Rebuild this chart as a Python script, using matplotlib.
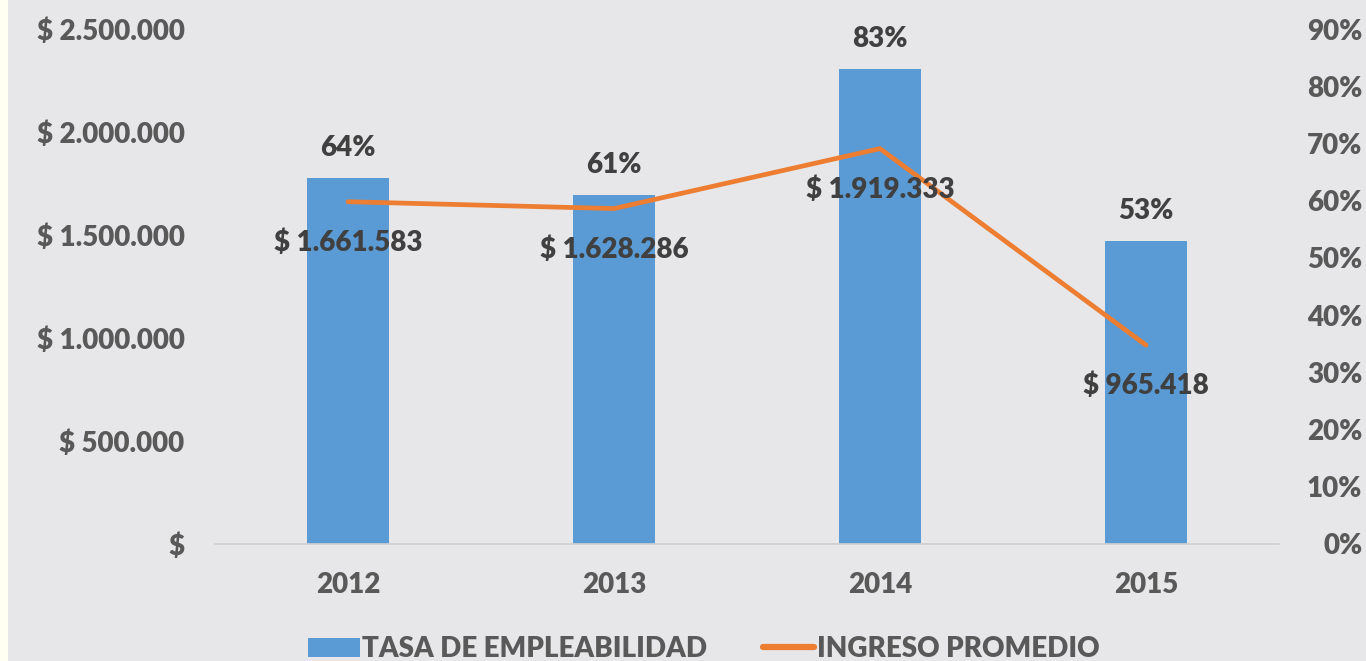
import matplotlib
matplotlib.use("Agg")
import matplotlib.pyplot as plt
from matplotlib.patches import Patch, Rectangle
from matplotlib.lines import Line2D

years = ["2012", "2013", "2014", "2015"]
tasa = [64, 61, 83, 53]
ingreso = [1661583, 1628286, 1919333, 965418]

bg = "#E7E7E9"
blue = "#5B9BD5"
orange = "#ED7D31"
grey = "#595959"
dark = "#404040"
fs = 20
wt = "heavy"

plt.rcParams['font.family'] = ['Lato', 'DejaVu Sans']
plt.rcParams['font.weight'] = wt


def money(v):
    if v == 0:
        return "$"
    return "$ " + "{:,.0f}".format(v).replace(",", ".")


fig = plt.figure(figsize=(13.66, 6.61), dpi=100, facecolor="#FFFFF2")
# grey chart area, cream strip on the left
fig.add_artist(Rectangle((8 / 1366, 0), 1, 1, transform=fig.transFigure,
                         facecolor=bg, edgecolor="none", zorder=-10))

ax = fig.add_axes([215 / 1366, 1 - 544 / 661, 1064 / 1366, 515 / 661])
ax.set_facecolor("none")
ax2 = ax.twinx()
ax2.set_facecolor("none")

x = range(len(years))

# bars on the right (percent) axis
ax2.bar(x, tasa, width=0.31, color=blue, zorder=2)
ax2.set_ylim(0, 90)
ax2.set_yticks(range(0, 91, 10))
ax2.set_yticklabels(["{}%".format(t) for t in range(0, 91, 10)])
for i, v in enumerate(tasa):
    ax2.annotate("{}%".format(v), (i, v), xytext=(0, 30), textcoords="offset pixels",
                 ha="center", va="center", fontsize=fs, color=dark, fontweight=wt)

# line on the left (money) axis, drawn above bars
ax.set_zorder(ax2.get_zorder() + 1)
ax.plot(x, ingreso, color=orange, lw=3.4, solid_capstyle="round", zorder=3)
ax.set_ylim(0, 2500000)
ticks = list(range(0, 2500001, 500000))
ax.set_yticks(ticks)
ax.set_yticklabels([money(t) for t in ticks])
for i, v in enumerate(ingreso):
    ax.annotate(money(v), (i, v), xytext=(0, -41), textcoords="offset pixels",
                ha="center", va="center", fontsize=fs, color=dark, fontweight=wt)

ax.set_xlim(-0.5, 3.5)
ax.set_xticks(list(x))
ax.set_xticklabels(years)

for a in (ax, ax2):
    for s in a.spines.values():
        s.set_visible(False)
    a.tick_params(length=0, labelsize=fs, labelcolor=grey)
ax.spines["bottom"].set_visible(True)
ax.spines["bottom"].set_color("#D0D0D0")
ax.spines["bottom"].set_linewidth(1.2)
ax.tick_params(axis="y", pad=22)
ax.tick_params(axis="x", pad=20)
ax2.tick_params(axis="y", pad=60)
for lab in ax2.get_yticklabels():
    lab.set_horizontalalignment("right")

handles = [Patch(facecolor=blue, edgecolor="none"),
           Line2D([0], [0], color=orange, lw=4.5, solid_capstyle="round")]
fig.legend(handles, ["TASA DE EMPLEABILIDAD", "INGRESO PROMEDIO"],
           loc="center", bbox_to_anchor=(704 / 1366, 1 - 649 / 661), ncol=2,
           frameon=False, fontsize=fs, labelcolor=grey, handlelength=1.85,
           handletextpad=0.1, columnspacing=2.0)

fig.savefig("out.png", dpi=100, facecolor=fig.get_facecolor())
